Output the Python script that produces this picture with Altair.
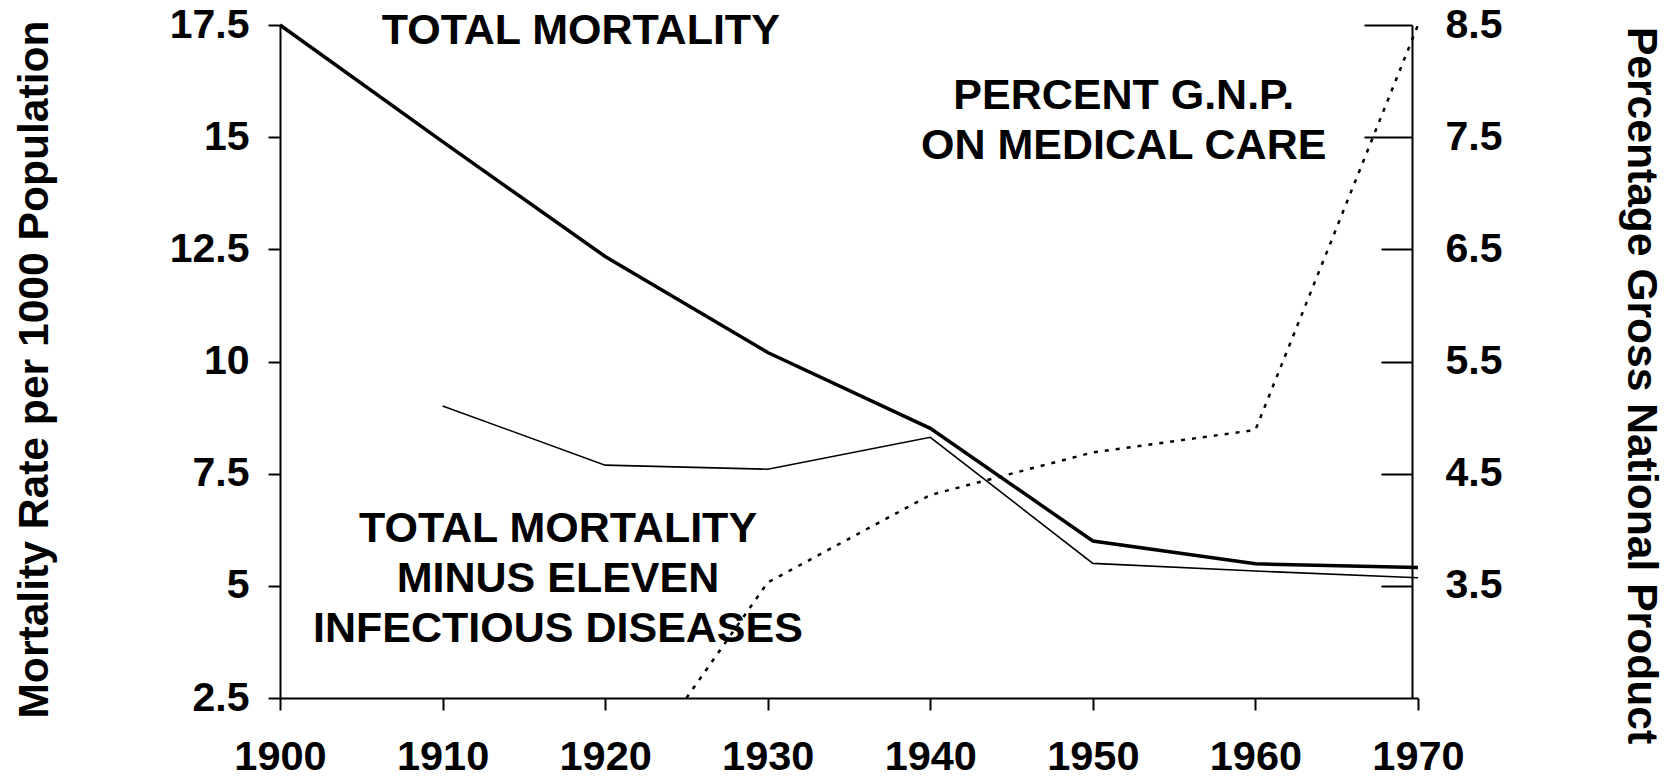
import altair as alt
import pandas as pd

FONT = "Liberation Sans, Arial, Helvetica, sans-serif"

# ---- data ----
years = [1900, 1910, 1920, 1930, 1940, 1950, 1960, 1970]
total_mortality = [17.5, 14.9, 12.34, 10.2, 8.51, 6.0, 5.49, 5.41]

minus_years = [1910, 1920, 1930, 1940, 1950, 1960, 1970]
minus_infectious = [9.01, 7.69, 7.60, 8.31, 5.50, 5.33, 5.18]

gnp_years = [1925, 1930, 1940, 1950, 1960, 1970]
gnp_pct = [2.5, 3.53, 4.31, 4.69, 4.89, 8.5]

left_ticks = [2.5, 5, 7.5, 10, 12.5, 15, 17.5]
right_ticks = [3.5, 4.5, 5.5, 6.5, 7.5, 8.5]
x_ticks = [1900, 1910, 1920, 1930, 1940, 1950, 1960, 1970]

ann_labels = [
    "TOTAL MORTALITY",
    "TOTAL MORTALITY\nMINUS ELEVEN\nINFECTIOUS DISEASES",
    "PERCENT G.N.P.\nON MEDICAL CARE",
]
ann_years = [1918.5, 1917.1, 1951.9]
ann_values = [17.37, 6.26, 15.91]

# ---- tables ----
mort = pd.concat([
    pd.DataFrame({"year": years, "value": total_mortality, "series": "total"}),
    pd.DataFrame({"year": minus_years, "value": minus_infectious, "series": "minus"}),
])
gnp = pd.DataFrame({"year": gnp_years, "pct": gnp_pct})
ann = pd.DataFrame({"year": ann_years, "value": ann_values, "label": ann_labels})

x_enc = alt.X(
    "year:Q",
    scale=alt.Scale(domain=[1900, 1970], nice=False, zero=False),
    axis=alt.Axis(values=x_ticks, format="d", title=None, tickSize=12,
                  labelPadding=26, labelFontSize=41.5, labelFlush=False),
)

left_scale = alt.Scale(domain=[2.5, 17.5], nice=False, zero=False)
left_axis = alt.Axis(
    values=left_ticks, format=".1~f", tickSize=12, labelPadding=19,
    labelFontSize=41, labelFlush=False,
    title="Mortality Rate per 1000 Population", titleFontSize=42.6,
    titleAngle=270, titleX=-233, titleY=344,
    titleBaseline="alphabetic", titleAlign="center",
)
y_left = alt.Y("value:Q", scale=left_scale, axis=left_axis)

thick = alt.Chart(mort).transform_filter(alt.datum.series == "total").mark_line(
    color="black", strokeWidth=3.5
).encode(x=x_enc, y=y_left)

thin = alt.Chart(mort).transform_filter(alt.datum.series == "minus").mark_line(
    color="black", strokeWidth=1.6
).encode(x=x_enc, y=y_left)

text = alt.Chart(ann).mark_text(
    font=FONT, fontSize=43, fontWeight="bold", color="black",
    align="center", baseline="middle", lineBreak="\n", lineHeight=50,
).encode(x=x_enc, y=y_left, text="label:N")

left = alt.layer(thick, thin, text)

right_axis = alt.Axis(
    orient="right", values=right_ticks, format=".1f", offset=-6,
    tickSize=alt.ExprRef(expr="datum.value >= 7.5 ? -48 : -31"),
    labelPadding=alt.ExprRef(expr="datum.value >= 7.5 ? 81 : 64"),
    labelAlign="left", labelFontSize=41, labelFlush=False,
    title="Percentage Gross National Product", titleFontSize=42.6,
    titleAngle=90, titleX=215, titleY=360,
    titleBaseline="alphabetic", titleAlign="center",
)
right = alt.Chart(gnp).mark_line(
    color="black", strokeWidth=2.5, strokeDash=[4, 7]
).encode(
    x=x_enc,
    y=alt.Y("pct:Q", scale=alt.Scale(domain=[2.5, 8.5], nice=False, zero=False),
            axis=right_axis),
)

chart = alt.layer(left, right).resolve_scale(y="independent").properties(
    width=1138,
    height=673,
    autosize=alt.AutoSizeParams(type="none"),
    padding={"left": 272, "top": 17, "right": 249, "bottom": 78},
    background="white",
).configure_view(stroke=None).configure_axis(
    grid=False,
    domainColor="black", domainWidth=2,
    tickColor="black", tickWidth=2,
    labelColor="black", titleColor="black",
    labelFont=FONT, titleFont=FONT,
    labelFontWeight="bold", titleFontWeight="bold",
    labelOverlap=False,
)

chart.save("out.html", embed_options={"renderer": "svg", "actions": False})
